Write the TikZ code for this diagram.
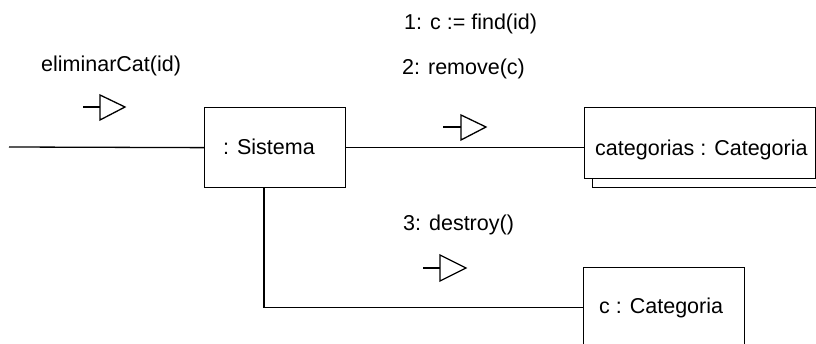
\documentclass[tikz,border=0pt]{standalone}
\usepackage{fontspec}
\setmainfont{Liberation Sans}
\usetikzlibrary{calc}
\begin{document}
\begin{tikzpicture}[x=1pt,y=-1pt,
  obj/.style={draw=black,line width=1.3pt,fill=white,rectangle,inner sep=0pt,anchor=north west},
  txt/.style={anchor=base west,inner sep=0pt,font=\fontsize{21.5}{26}\selectfont},
  link/.style={draw=black,line width=1.3pt},
  msg/.style={draw=black,line width=1.3pt,line join=miter}]
\useasboundingbox (0,0) rectangle (816,344);
\clip (0,0) rectangle (816,344);
% objects
\node[obj,minimum width=230pt,minimum height=72pt] (catsh) at (592,115) {};
\node[obj,minimum width=231pt,minimum height=71pt] (cats) at (584,107) {};
\node[obj,minimum width=141pt,minimum height=80pt] (sis) at (204,107) {};
\node[obj,minimum width=161pt,minimum height=80pt] (cobj) at (583,267) {};
% texts
\node[txt] (tsis) at (223,155) {: Sistema};
\node[txt] (tcats) at (595,156) {categorias : Categoria};
\node[txt] (tc) at (599,314) {c : Categoria};
\node[txt] (m0) at (41,72) {eliminarCat(id)};
\node[txt] (m1) at (404,30) {1: c := find(id)};
\node[txt] (m2) at (402,75) {2: remove(c)};
\node[txt] (m3) at (403,231) {3: destroy()};
% links
\coordinate (start) at (9,147);
\draw[link] (start) -- (sis.west);
\draw[link] (sis.east) -- (sis.east -| cats.west);
\coordinate (sisdown) at ($(sis.south west)+(60,0)$);
\draw[link] (sisdown) |- (cobj.west);
% message arrows
\draw[msg] (83,107) -- (100,107);
\draw[msg] (100,95) -- (125,107) -- (100,120) -- cycle;
\draw[msg] (443,127) -- (461,127);
\draw[msg] (461,115) -- (486,127) -- (461,140) -- cycle;
\draw[msg] (423,268) -- (440,268);
\draw[msg] (440,255) -- (466,268) -- (440,281) -- cycle;
\end{tikzpicture}
\end{document}
